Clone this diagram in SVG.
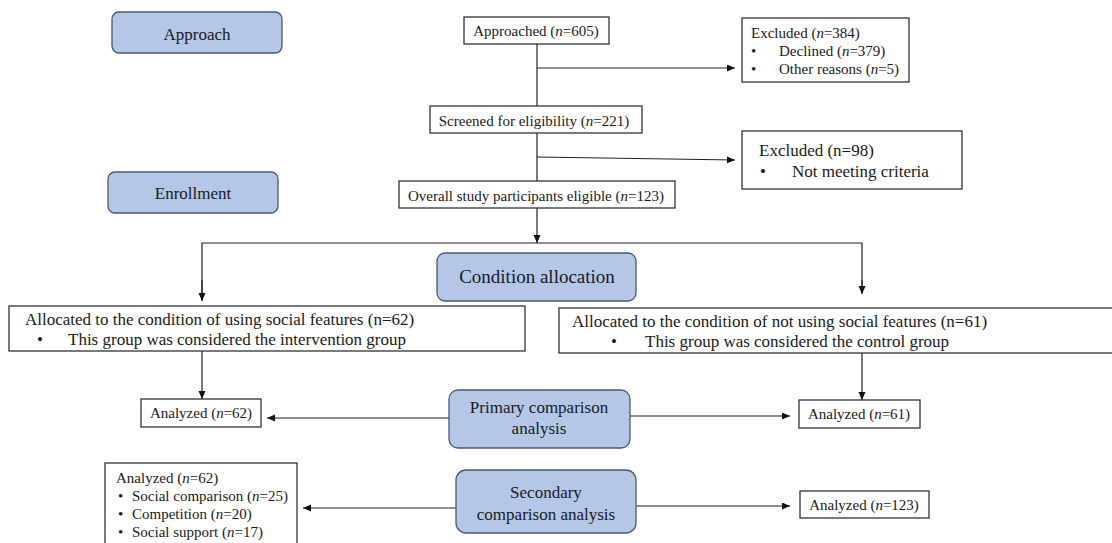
<svg xmlns="http://www.w3.org/2000/svg" width="1112" height="543" viewBox="0 0 1112 543">
<defs>
<marker id="ah" markerUnits="userSpaceOnUse" markerWidth="9" markerHeight="8" refX="8" refY="3.5" orient="auto">
<path d="M0,0 L8,3.5 L0,7 z" fill="#111"/>
</marker>
<style>
text{font-family:"Liberation Serif","Times New Roman",serif;fill:#1a1a1a}
.box{fill:#fff;stroke:#333;stroke-width:1.3}
.phase{fill:#b4c7e7;stroke:#46597a;stroke-width:1.3}
.c{stroke:#222;stroke-width:1.2;fill:none}
.a{marker-end:url(#ah)}
.s15{font-size:15px}
.s17{font-size:17px}
.mid{text-anchor:middle}
</style>
</defs>
<rect width="1112" height="543" fill="#fff"/>
<g id="connectors">
<line class="c" x1="537" y1="44" x2="537" y2="106"/>
<line class="c a" x1="537" y1="68" x2="735" y2="68"/>
<line class="c" x1="537" y1="133" x2="537" y2="181"/>
<line class="c a" x1="537" y1="157" x2="735" y2="160"/>
<line class="c a" x1="537" y1="208" x2="537" y2="243"/>
<polyline class="c" points="202,300 202,243 862,243 862,293"/>
<line class="c a" x1="202" y1="280" x2="202" y2="301"/>
<line class="c a" x1="862" y1="280" x2="862" y2="294"/>
<line class="c a" x1="202" y1="351" x2="202" y2="399"/>
<line class="c a" x1="862" y1="353" x2="862" y2="400"/>
<line class="c a" x1="449" y1="418" x2="267" y2="418"/>
<line class="c a" x1="630" y1="416" x2="790" y2="416"/>
<line class="c a" x1="456" y1="508" x2="303" y2="508"/>
<line class="c a" x1="636" y1="506" x2="790" y2="506"/>
</g>
<g id="approach">
<rect class="phase" x="112" y="12" width="170" height="41" rx="7"/>
<text class="s17 mid" x="197" y="40">Approach</text>
</g>
<g id="enrollment">
<rect class="phase" x="108" y="172" width="170" height="41" rx="7"/>
<text class="s17 mid" x="193" y="199">Enrollment</text>
</g>
<g id="approached">
<rect class="box" x="464" y="17" width="145" height="27"/>
<text class="s15 mid" x="536" y="36">Approached (<tspan font-style="italic">n</tspan>=605)</text>
</g>
<g id="excluded384">
<rect class="box" x="742" y="18" width="167" height="64"/>
<text class="s15" x="751" y="38">Excluded (<tspan font-style="italic">n</tspan>=384)</text>
<text class="s15" x="751" y="56">•</text>
<text class="s15" x="779" y="56">Declined (<tspan font-style="italic">n</tspan>=379)</text>
<text class="s15" x="751" y="74">•</text>
<text class="s15" x="779" y="74">Other reasons (<tspan font-style="italic">n</tspan>=5)</text>
</g>
<g id="screened">
<rect class="box" x="430" y="106" width="212" height="27"/>
<text class="s15 mid" x="534" y="126">Screened for eligibility (<tspan font-style="italic">n</tspan>=221)</text>
</g>
<g id="excluded98">
<rect class="box" x="742" y="131" width="220" height="58"/>
<text class="s17" x="759" y="156">Excluded (n=98)</text>
<text class="s17" x="760" y="177">•</text>
<text class="s17" x="792" y="177">Not meeting criteria</text>
</g>
<g id="eligible">
<rect class="box" x="399" y="181" width="276" height="27"/>
<text class="s15 mid" x="536" y="201">Overall study participants eligible (<tspan font-style="italic">n</tspan>=123)</text>
</g>
<g id="allocation">
<rect class="phase" x="437" y="253" width="199" height="48" rx="8"/>
<text class="mid" font-size="19" x="537" y="283">Condition allocation</text>
</g>
<g id="intervention">
<rect class="box" x="9" y="306" width="516" height="45"/>
<text class="s17" x="25" y="325">Allocated to the condition of using social features (n=62)</text>
<text class="s17" x="37" y="345">•</text>
<text class="s17" x="68" y="345">This group was considered the intervention group</text>
</g>
<g id="control">
<rect class="box" x="559" y="308" width="560" height="45"/>
<text class="s17" x="572" y="327">Allocated to the condition of not using social features (n=61)</text>
<text class="s17" x="611" y="347">•</text>
<text class="s17" x="645" y="347">This group was considered the control group</text>
</g>
<g id="analyzed62">
<rect class="box" x="141" y="399" width="120" height="28"/>
<text class="s15 mid" x="201" y="418">Analyzed (<tspan font-style="italic">n</tspan>=62)</text>
</g>
<g id="primary">
<rect class="phase" x="449" y="390" width="181" height="58" rx="9"/>
<text class="s17 mid" x="539" y="413">Primary comparison</text>
<text class="s17 mid" x="539" y="434">analysis</text>
</g>
<g id="analyzed61">
<rect class="box" x="799" y="400" width="121" height="28"/>
<text class="s15 mid" x="859" y="419">Analyzed (<tspan font-style="italic">n</tspan>=61)</text>
</g>
<g id="analyzed62list">
<rect class="box" x="105" y="463" width="192" height="90"/>
<text class="s15" x="116" y="483">Analyzed (<tspan font-style="italic">n</tspan>=62)</text>
<text class="s15" x="118" y="501">•</text>
<text class="s15" x="132" y="501">Social comparison (<tspan font-style="italic">n</tspan>=25)</text>
<text class="s15" x="118" y="519">•</text>
<text class="s15" x="132" y="519">Competition (<tspan font-style="italic">n</tspan>=20)</text>
<text class="s15" x="118" y="537">•</text>
<text class="s15" x="132" y="537">Social support (<tspan font-style="italic">n</tspan>=17)</text>
</g>
<g id="secondary">
<rect class="phase" x="456" y="470" width="180" height="63" rx="10"/>
<text class="s17 mid" x="546" y="498">Secondary</text>
<text class="s17 mid" x="546" y="520">comparison analysis</text>
</g>
<g id="analyzed123">
<rect class="box" x="800" y="491" width="129" height="27"/>
<text class="s15 mid" x="864" y="510">Analyzed (<tspan font-style="italic">n</tspan>=123)</text>
</g>
</svg>
